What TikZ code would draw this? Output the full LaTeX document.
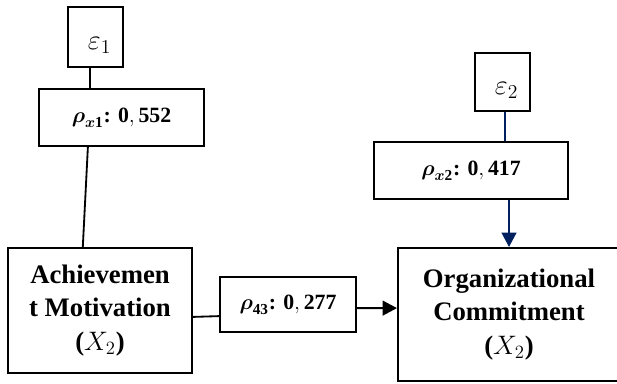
\RequirePackage{fix-cm}
\documentclass[tikz,border=0pt]{standalone}
\usepackage{amsmath}
\usepackage{fontspec}
\setmainfont{Liberation Serif}
\usetikzlibrary{arrows.meta, positioning}
\definecolor{navyline}{RGB}{0,32,96}

\begin{document}
\begin{tikzpicture}[
    x=0.025cm, y=-0.025cm,
    >={Triangle[length=0.36cm, width=0.37cm]},
    varbox/.style={rectangle, draw, line width=1.4pt, align=center, inner sep=0pt, font=\fontsize{19}{24}\selectfont\bfseries},
    errbox/.style={rectangle, draw, line width=1.8pt, minimum width=1.375cm, font=\fontsize{20}{22}\selectfont},
    coef/.style={rectangle, draw, line width=1.3pt, minimum height=1.425cm, font=\fontsize{15.5}{18}\selectfont},
    link/.style={line width=1.3pt},
]
\useasboundingbox (0,0) rectangle (617,383);

% Error terms
\node (eps1) at (95.5,37) [errbox, minimum height=1.5cm] {\hspace*{0.2cm}\raisebox{-0.16cm}[\height][0pt]{$\varepsilon_1$}};
\node (eps2) at (502.5,82) [errbox, minimum height=1.45cm] {\hspace*{0.2cm}\raisebox{-0.16cm}[\height][0pt]{$\varepsilon_2$}};

% Coefficients
\node (rhox1) at (121.5,117.5) [coef, minimum width=4.125cm] {$\boldsymbol{\rho}_{\boldsymbol{x}\mathbf{1}}$\textbf{: }$\mathbf{0,552}$};
\node (rhox2) at (471,170.5) [coef, minimum width=4.85cm] {$\boldsymbol{\rho}_{\boldsymbol{x}\mathbf{2}}$\textbf{: }$\mathbf{0,417}$};
\node (rho43) at (288,304.5) [coef, minimum width=3.4cm, minimum height=1.375cm] {$\boldsymbol{\rho}_{\mathbf{43}}$\textbf{: }$\mathbf{0,277}$};

% Variables
\node (ach) at (100,310.5) [varbox, minimum width=4.6cm, minimum height=3.125cm] {Achievemen\\t Motivation\\($X_2$)};
\node (org) at (509,314.5) [varbox, minimum width=5.55cm, minimum height=3.325cm] {Organizational\\Commitment\\($X_2$)};

% Left path
\draw[link] ([xshift=-0.14cm]eps1.south) -- ([xshift=-0.14cm]eps1.south |- rhox1.north);
\draw[link] ([xshift=-0.84cm]rhox1.south) -- ([xshift=-0.43cm]ach.north);

% Middle path
\draw[link] ([yshift=-0.16cm]ach.east) -- ([yshift=-0.29cm]rho43.west);
\draw[link, ->] ([yshift=-0.09cm]rho43.east) -- ([yshift=0.16cm]org.west);

% Right path
\draw[link, navyline] ([xshift=0.06cm]eps2.south) -- ([xshift=0.06cm]eps2.south |- rhox2.north);
\draw[link, navyline, ->] (org.north |- rhox2.south) -- (org.north);

\end{tikzpicture}
\end{document}
